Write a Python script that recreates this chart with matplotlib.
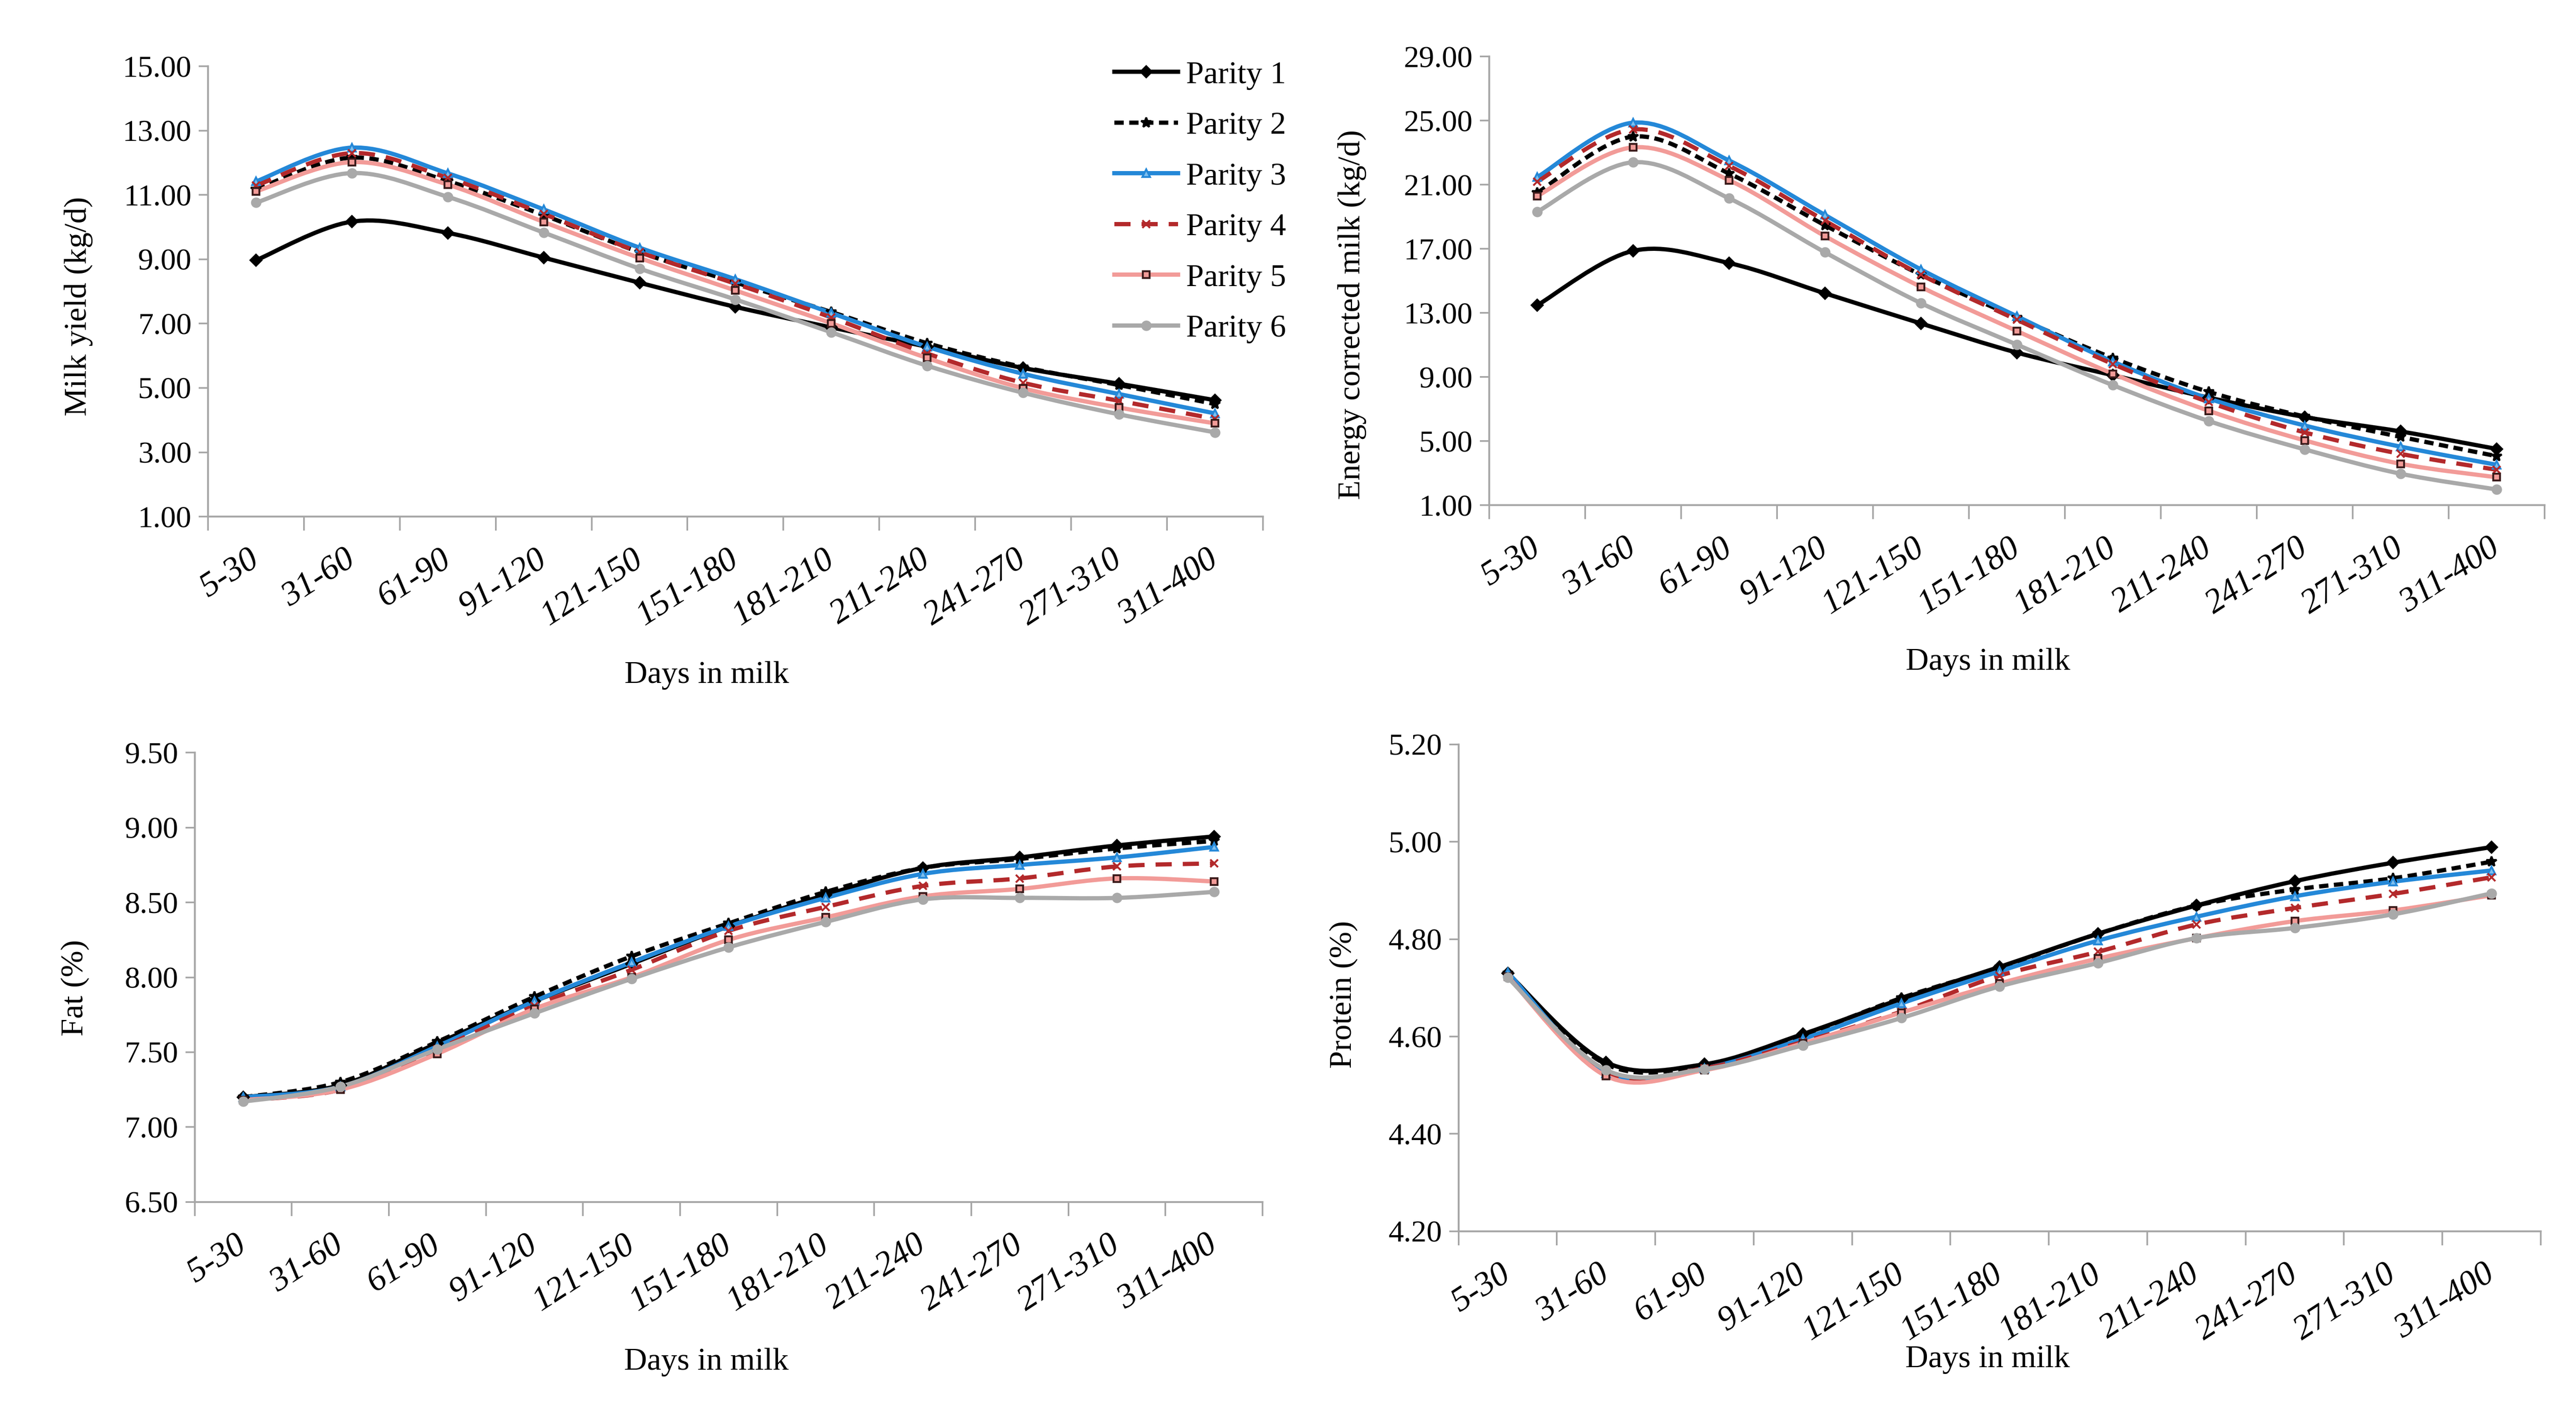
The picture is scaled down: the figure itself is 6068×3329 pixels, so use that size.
import matplotlib
matplotlib.use('Agg')
import matplotlib.pyplot as plt
import numpy as np
from matplotlib.path import Path
from matplotlib.patches import PathPatch
from matplotlib.lines import Line2D

plt.rcParams['font.family'] = ['Liberation Serif', 'DejaVu Serif']

categories = ['5-30', '31-60', '61-90', '91-120', '121-150', '151-180',
              '181-210', '211-240', '241-270', '271-310', '311-400']
parities = ['Parity 1', 'Parity 2', 'Parity 3', 'Parity 4', 'Parity 5', 'Parity 6']

milk_yield = [
    [8.97, 10.17, 9.82, 9.05, 8.27, 7.52, 6.88, 6.28, 5.62, 5.13, 4.62],
    [11.18, 12.16, 11.43, 10.37, 9.22, 8.28, 7.36, 6.39, 5.65, 5.09, 4.50],
    [11.42, 12.47, 11.67, 10.55, 9.36, 8.38, 7.33, 6.28, 5.44, 4.81, 4.21],
    [11.29, 12.30, 11.53, 10.41, 9.22, 8.24, 7.19, 6.07, 5.16, 4.60, 4.04],
    [11.11, 12.02, 11.32, 10.16, 9.04, 8.03, 7.01, 5.93, 4.99, 4.39, 3.90],
    [10.76, 11.68, 10.94, 9.83, 8.71, 7.75, 6.73, 5.69, 4.85, 4.18, 3.62],
]
ecm = [
    [13.47, 16.87, 16.11, 14.22, 12.34, 10.52, 9.11, 7.71, 6.50, 5.60, 4.51],
    [20.49, 24.00, 21.70, 18.47, 15.38, 12.71, 10.18, 8.07, 6.53, 5.26, 4.06],
    [21.47, 24.87, 22.51, 19.11, 15.71, 12.79, 9.96, 7.65, 5.97, 4.65, 3.52],
    [21.19, 24.45, 22.17, 18.75, 15.38, 12.57, 9.81, 7.43, 5.54, 4.20, 3.21],
    [20.29, 23.33, 21.28, 17.79, 14.62, 11.87, 9.20, 6.89, 5.04, 3.58, 2.74],
    [19.31, 22.40, 20.15, 16.78, 13.61, 11.02, 8.49, 6.25, 4.48, 2.96, 1.98],
]
fat = [
    [7.20, 7.28, 7.56, 7.84, 8.09, 8.34, 8.55, 8.73, 8.80, 8.88, 8.94],
    [7.20, 7.30, 7.57, 7.87, 8.14, 8.36, 8.57, 8.73, 8.79, 8.86, 8.91],
    [7.20, 7.27, 7.54, 7.84, 8.10, 8.34, 8.53, 8.69, 8.75, 8.80, 8.87],
    [7.18, 7.25, 7.52, 7.81, 8.05, 8.31, 8.47, 8.61, 8.66, 8.74, 8.76],
    [7.18, 7.25, 7.49, 7.79, 8.00, 8.25, 8.40, 8.54, 8.59, 8.66, 8.64],
    [7.17, 7.27, 7.52, 7.76, 7.99, 8.20, 8.37, 8.52, 8.53, 8.53, 8.57],
]
protein = [
    [4.730, 4.547, 4.543, 4.605, 4.677, 4.743, 4.811, 4.869, 4.919, 4.957, 4.989],
    [4.730, 4.543, 4.541, 4.603, 4.679, 4.742, 4.811, 4.869, 4.902, 4.925, 4.959],
    [4.732, 4.524, 4.535, 4.595, 4.668, 4.734, 4.797, 4.846, 4.888, 4.918, 4.941],
    [4.723, 4.524, 4.535, 4.589, 4.651, 4.725, 4.774, 4.830, 4.864, 4.893, 4.927],
    [4.723, 4.519, 4.531, 4.586, 4.649, 4.709, 4.760, 4.802, 4.837, 4.859, 4.890],
    [4.721, 4.531, 4.533, 4.582, 4.638, 4.703, 4.751, 4.802, 4.823, 4.851, 4.894],
]

# line styles per parity
styles = [
    dict(color='black', ls='-', marker='D', ms=3.2, mfc='black', mec='black'),
    dict(color='black', ls=(0, (2.2, 1.3)), marker='*', ms=4.5, mfc='black', mec='black'),
    dict(color='#2488d8', ls='-', marker='^', ms=3.2, mfc='#7fbfee', mec='#2488d8'),
    dict(color='#b3292b', ls=(0, (3.8, 2.6)), marker='x', ms=3.2, mfc='#b3292b', mec='#b3292b'),
    dict(color='#f29b98', ls='-', marker='s', ms=2.8, mfc='#f29b98', mec='#3a1a1a'),
    dict(color='#a9a9a9', ls='-', marker='o', ms=3.6, mfc='#a9a9a9', mec='#a9a9a9'),
]
lw = 1.8
spine_col = '#a6a6a6'


def smooth_path(x, y):
    # excel style smoothed line: cubic bezier through the points
    pts = np.column_stack([x, y]).astype(float)
    n = len(pts)
    verts = [pts[0]]
    codes = [Path.MOVETO]
    for i in range(n - 1):
        p0 = pts[max(i - 1, 0)]
        p1 = pts[i]
        p2 = pts[i + 1]
        p3 = pts[min(i + 2, n - 1)]
        verts += [p1 + (p2 - p0) / 6.0, p2 - (p3 - p1) / 6.0, p2]
        codes += [Path.CURVE4] * 3
    return Path(verts, codes)


def draw_panel(ax, data, yticks, ylabel, ylab_xy, xlab_xy):
    x = np.arange(len(categories))
    for vals, st in zip(data, styles):
        patch = PathPatch(smooth_path(x, vals), fill=False, edgecolor=st['color'],
                          lw=lw, linestyle=st['ls'], capstyle='butt', joinstyle='round')
        ax.add_patch(patch)
        ax.plot(x, vals, ls='none', marker=st['marker'], ms=st['ms'],
                mfc=st['mfc'], mec=st['mec'], mew=0.8)
    ax.set_xlim(-0.5, len(categories) - 0.5)
    ax.set_ylim(yticks[0], yticks[-1])
    ax.set_yticks(yticks)
    ax.set_yticklabels([f'{v:.2f}' for v in yticks])
    ax.set_xticks(np.arange(len(categories) + 1) - 0.5)
    ax.set_xticklabels([])
    ax.set_xticks(x, minor=True)
    ax.set_xticklabels(categories, minor=True, rotation=33, ha='right',
                       va='center', rotation_mode='anchor', style='italic')
    ax.tick_params(axis='x', which='major', length=6, width=0.7, color=spine_col, direction='out')
    ax.tick_params(axis='x', which='minor', length=0, pad=17, labelsize=14.5)
    ax.tick_params(axis='y', length=4, width=0.7, color=spine_col, labelsize=13, pad=3)
    for s in ['top', 'right']:
        ax.spines[s].set_visible(False)
    for s in ['left', 'bottom']:
        ax.spines[s].set_color(spine_col)
        ax.spines[s].set_linewidth(0.8)
    ax.set_ylabel(ylabel, fontsize=13.5)
    ax.yaxis.set_label_coords(*ylab_xy)
    ax.yaxis.label.set_va('center')
    ax.set_xlabel('Days in milk', fontsize=13.5)
    ax.xaxis.set_label_coords(*xlab_xy)
    ax.xaxis.label.set_va('center')


fig = plt.figure(figsize=(15.17, 8.3225), dpi=400)

ax1 = fig.add_axes([0.0808, 0.6344, 0.4094, 0.3187])
ax2 = fig.add_axes([0.5781, 0.6425, 0.4097, 0.3175])
ax3 = fig.add_axes([0.0756, 0.1493, 0.4145, 0.3181])
ax4 = fig.add_axes([0.5662, 0.1286, 0.4201, 0.3446])

draw_panel(ax1, milk_yield, np.arange(1, 15.01, 2), 'Milk yield (kg/d)', (-0.123, 0.467), (0.4726, -0.353))
draw_panel(ax2, ecm, np.arange(1, 29.01, 4), 'Energy corrected milk (kg/d)', (-0.130, 0.425), (0.4727, -0.350))
draw_panel(ax3, fat, np.arange(6.5, 9.51, 0.5), 'Fat (%)', (-0.112, 0.476), (0.479, -0.356))
draw_panel(ax4, protein, np.arange(4.2, 5.201, 0.2), 'Protein (%)', (-0.106, 0.486), (0.489, -0.264))

handles = [Line2D([], [], color=st['color'], ls=st['ls'], lw=lw, marker=st['marker'],
                  ms=st['ms'], mfc=st['mfc'], mec=st['mec'], mew=0.8) for st in styles]
fig.legend(handles, parities, loc='upper left', bbox_to_anchor=(0.4326, 0.957),
           frameon=False, fontsize=13.5, handlelength=2.0, handletextpad=0.25,
           labelspacing=0.68, borderaxespad=0, borderpad=0, numpoints=1)

fig.savefig('out.png', dpi=400, facecolor='white')
